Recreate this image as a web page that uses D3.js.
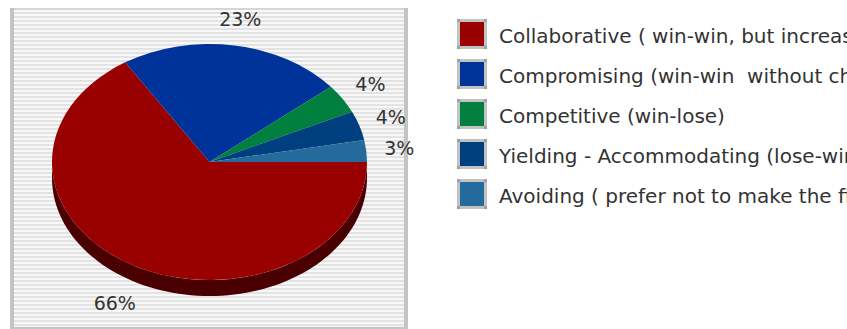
<!DOCTYPE html>
<html>
<head>
<meta charset="utf-8">
<script src="https://cdn.jsdelivr.net/npm/d3@7"></script>
<style>
  html, body { margin: 0; padding: 0; background: #ffffff; overflow: hidden; }
  svg { display: block; }
  text { font-family: "DejaVu Sans", sans-serif; fill: #333333; white-space: pre; }
</style>
</head>
<body>
<svg id="chart" width="847" height="329"></svg>
<script>
// Conflict-handling styles, share of respondents (%)
const categories = [
  "Collaborative ( win-win, but increase the pie)",
  "Compromising (win-win  without changing the pie)",
  "Competitive (win-lose)",
  "Yielding - Accommodating (lose-win)",
  "Avoiding ( prefer not to make the first move)"
];
const shares = [66, 23, 4, 4, 3];
const topColors  = ["#990000", "#003399", "#007f3f", "#003f7f", "#246a9c"];
const sideColors = ["#4a0000", "#001a4d", "#004020", "#00203f", "#12354e"];

const svg = d3.select("#chart");

// ---- plot frame with horizontal striped wall ----
const frame = { x: 12, y: 9, w: 394, h: 319 };
const defs = svg.append("defs");
const pat = defs.append("pattern")
  .attr("id", "stripes")
  .attr("patternUnits", "userSpaceOnUse")
  .attr("width", 8).attr("height", 4);
pat.append("rect").attr("width", 8).attr("height", 4).attr("fill", "#f8f8f8");
pat.append("rect").attr("y", 0).attr("width", 8).attr("height", 2).attr("fill", "#e3e3e3");

svg.append("rect")
  .attr("x", frame.x).attr("y", frame.y)
  .attr("width", frame.w).attr("height", frame.h)
  .attr("fill", "url(#stripes)");
// frame edges
svg.append("rect").attr("x", frame.x - 1).attr("y", frame.y - 1).attr("width", frame.w + 2).attr("height", 2).attr("fill", "#d6d6d6");
svg.append("rect").attr("x", frame.x - 2).attr("y", frame.y - 1).attr("width", 4).attr("height", frame.h + 2).attr("fill", "#c4c4c4");
svg.append("rect").attr("x", frame.x + frame.w - 2).attr("y", frame.y - 1).attr("width", 4).attr("height", frame.h + 2).attr("fill", "#c4c4c4");
svg.append("rect").attr("x", frame.x - 1).attr("y", frame.y + frame.h - 1).attr("width", frame.w + 2).attr("height", 2).attr("fill", "#c4c4c4");

// ---- 3D pie ----
const cx = 209.5, cy = 162, rx = 157.5, ry = 118, depth = 16;
const pie = d3.pie().sort(null).value(d => d)
  .startAngle(Math.PI / 2).endAngle(Math.PI / 2 + 2 * Math.PI);
const arcsData = pie(shares);

// d3 angle (0 = north, clockwise) -> screen point on ellipse
const pt = (a, dy = 0) => [cx + rx * Math.sin(a), cy - ry * Math.cos(a) + dy];

// side walls: only the part of each slice facing the viewer (lower half)
const sideG = svg.append("g");
arcsData.forEach((d, i) => {
  const a0 = Math.max(d.startAngle, Math.PI / 2);
  const a1 = Math.min(d.endAngle, 3 * Math.PI / 2);
  if (a1 <= a0) return;
  const n = 80;
  const top = d3.range(n + 1).map(k => pt(a0 + (a1 - a0) * k / n));
  const bot = top.map(([x, y]) => [x, y + depth]).reverse();
  sideG.append("path")
    .attr("d", d3.line()(top.concat(bot)) + "Z")
    .attr("fill", sideColors[i]);
});

// top faces: circular arcs squashed into an ellipse
const arc = d3.arc().innerRadius(0).outerRadius(rx);
svg.append("g")
  .attr("transform", `translate(${cx},${cy}) scale(1,${ry / rx})`)
  .selectAll("path")
  .data(arcsData)
  .join("path")
  .attr("d", arc)
  .attr("fill", (d, i) => topColors[i]);

// percentage labels just outside each slice
const gap = 18;
const lblG = svg.append("g");
arcsData.forEach((d, i) => {
  const m = (d.startAngle + d.endAngle) / 2;
  const s = Math.sin(m), c = -Math.cos(m);   // screen x / y direction
  const px = cx + (rx + gap) * s;
  const py = cy + (ry + gap + (c > 0 ? depth : 0)) * c;
  const t = lblG.append("text")
    .attr("font-size", 19)
    .text(d.data + "%");
  const w = t.node().getComputedTextLength();
  const h = 14;
  const mx = px + (w / 2) * s, my = py + (h / 2 + 2) * c;
  t.attr("x", mx).attr("y", my + h / 2)
    .attr("text-anchor", "middle");
});

// ---- legend ----
const lg = svg.append("g").attr("transform", "translate(457,19)");
const rows = lg.selectAll("g").data(categories).join("g")
  .attr("transform", (d, i) => `translate(0,${i * 40})`);
rows.append("rect")
  .attr("x", 1.5).attr("y", 1.5).attr("width", 27).attr("height", 27)
  .attr("fill", (d, i) => topColors[i])
  .attr("stroke", "#c2c2c2").attr("stroke-width", 3);
// small darker corner marks on each swatch frame
[[0, 0], [27, 0], [0, 27], [27, 27]].forEach(([x, y]) => {
  rows.append("rect").attr("x", x).attr("y", y)
    .attr("width", 3).attr("height", 3).attr("fill", "#a0a0a0");
});
rows.append("text")
  .attr("x", 42).attr("y", 24)
  .attr("font-size", 20)
  .text(d => d);
</script>
</body>
</html>
